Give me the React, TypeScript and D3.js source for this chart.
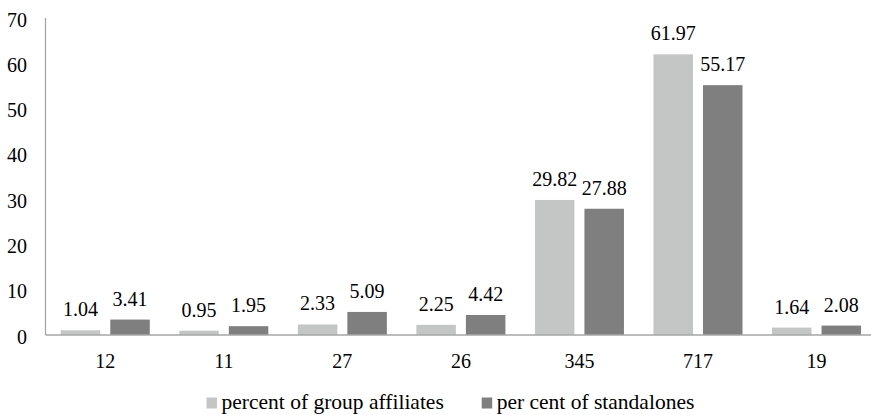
import React from "react";
import * as d3 from "d3";

const categories = ["12", "11", "27", "26", "345", "717", "19"];
const seriesNames = ["percent of group affiliates", "per cent of standalones"];
const groupAffiliates = [1.04, 0.95, 2.33, 2.25, 29.82, 61.97, 1.64];
const standalones = [3.41, 1.95, 5.09, 4.42, 27.88, 55.17, 2.08];
const yTicks = [0, 10, 20, 30, 40, 50, 60, 70];
const seriesColors = ["#c4c6c5", "#7f7f7f"];
const legendX = [206.5, 481.7];

const W = 871;
const H = 415;
const FONT = "Liberation Serif";

export default function App() {
  const y = d3.scaleLinear().domain([0, 70]).range([335, 18]);
  const x = d3.scaleBand<string>().domain(categories).range([46, 875.8]).padding(0);
  const inner = d3
    .scaleBand<number>()
    .domain([0, 1])
    .range([0, x.step()])
    .paddingInner(0.202)
    .paddingOuter(0.298);
  const series = [groupAffiliates, standalones];
  const fmt = d3.format(".2f");

  return (
    <svg
      width={W}
      height={H}
      style={{ position: "absolute", left: 0, top: 0, background: "#fff" }}
    >
      {/* bars with value labels */}
      {series.map((vals, si) =>
        vals.map((v, ci) => {
          const bx = (x(categories[ci]) as number) + (inner(si) as number);
          return (
            <g key={`${si}-${ci}`}>
              <rect
                x={bx}
                y={y(v)}
                width={inner.bandwidth()}
                height={y(0) - y(v)}
                fill={seriesColors[si]}
              />
              <text
                x={bx + inner.bandwidth() / 2}
                y={y(v) - 14}
                textAnchor="middle"
                fontFamily={FONT}
                fontSize={20}
                fill="#000"
              >
                {fmt(v)}
              </text>
            </g>
          );
        })
      )}

      {/* axes */}
      <line x1={45.5} x2={45.5} y1={y(70)} y2={y(0)} stroke="#a6a6a6" strokeWidth={1.3} />
      <line x1={45.5} x2={W} y1={y(0)} y2={y(0)} stroke="#a6a6a6" strokeWidth={1.3} />

      {yTicks.map((t) => (
        <text
          key={t}
          x={27}
          y={y(t) + 8.5}
          textAnchor="end"
          fontFamily={FONT}
          fontSize={20}
          fill="#000"
        >
          {t}
        </text>
      ))}

      {categories.map((c) => (
        <text
          key={c}
          x={(x(c) as number) + x.bandwidth() / 2}
          y={368}
          textAnchor="middle"
          fontFamily={FONT}
          fontSize={20}
          fill="#000"
        >
          {c}
        </text>
      ))}

      {/* legend */}
      {seriesNames.map((name, i) => (
        <g key={name}>
          <rect x={legendX[i]} y={397.5} width={10.5} height={11} fill={seriesColors[i]} />
          <text
            x={legendX[i] + 15}
            y={408.5}
            fontFamily={FONT}
            fontSize={21.5}
            fill="#000"
          >
            {name}
          </text>
        </g>
      ))}
    </svg>
  );
}
